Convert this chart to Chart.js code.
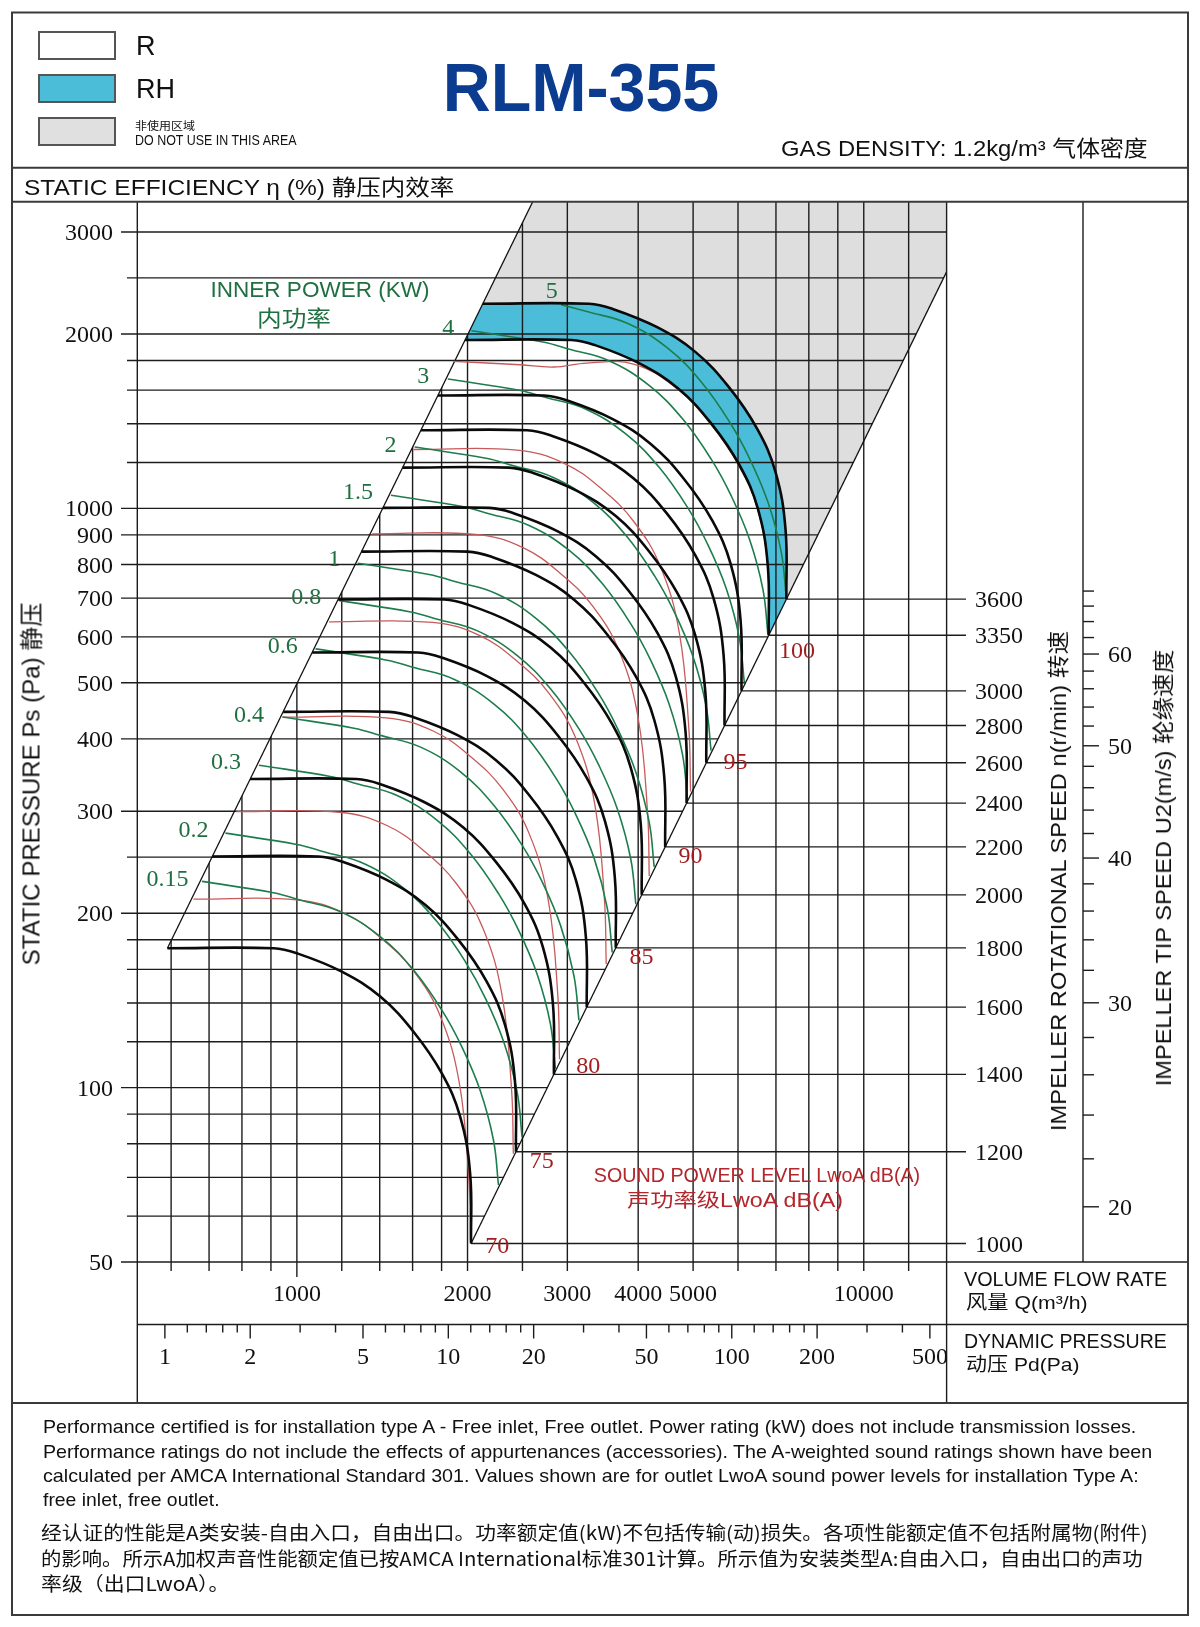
<!DOCTYPE html>
<html>
<head>
<meta charset="utf-8">
<title>RLM-355</title>
<script src="https://cdn.jsdelivr.net/npm/chart.js@4.4.1/dist/chart.umd.min.js"></script>
<style>
  html, body { margin: 0; padding: 0; background: #fff; }
  #page { position: relative; width: 1200px; height: 1627px; overflow: hidden; background: #fff; }
  #chart { position: absolute; left: 0; top: 0; }
  .t { position: absolute; white-space: nowrap; line-height: 1; color: #111; }
  .sans { font-family: "Liberation Sans", Arial, "Noto Sans CJK SC", sans-serif; }
  .serif { font-family: "Liberation Serif", "Times New Roman", "Noto Sans CJK SC", serif; }
  .cjk { font-family: "Noto Sans CJK SC", "Liberation Sans", sans-serif; }
</style>
</head>
<body>
<div id="page">
  <canvas id="chart" width="1200" height="1627"></canvas>
</div>
<script>
// impeller speeds n (r/min), one black fan curve each; the last two bound the RH band
const speeds = [1000, 1200, 1400, 1600, 1800, 2000, 2200, 2400, 2600, 2800, 3000, 3350, 3600];

// fan curves: volume flow Q (m3/h) and static pressure Ps (Pa)
const fanFlow = [
  [591, 910, 1000, 1200, 1403, 1606, 1802, 1941, 2021, 2029],
  [709, 1092, 1200, 1440, 1684, 1927, 2162, 2329, 2425, 2435],
  [827, 1274, 1400, 1680, 1964, 2248, 2523, 2717, 2829, 2841],
  [946, 1456, 1600, 1920, 2245, 2570, 2883, 3106, 3234, 3246],
  [1064, 1638, 1800, 2160, 2525, 2891, 3244, 3494, 3638, 3652],
  [1182, 1820, 2000, 2400, 2806, 3212, 3604, 3882, 4042, 4058],
  [1300, 2002, 2200, 2640, 3087, 3533, 3964, 4270, 4446, 4464],
  [1418, 2184, 2400, 2880, 3367, 3854, 4325, 4658, 4850, 4870],
  [1537, 2366, 2600, 3120, 3648, 4176, 4685, 5047, 5255, 5275],
  [1655, 2548, 2800, 3360, 3928, 4497, 5046, 5435, 5659, 5681],
  [1773, 2730, 3000, 3600, 4209, 4818, 5406, 5823, 6063, 6087],
  [1980, 3049, 3350, 4020, 4700, 5380, 6037, 6502, 6770, 6797],
  [2128, 3276, 3600, 4320, 5051, 5782, 6487, 6988, 7276, 7304]
];
const fanPressure = [
  [174, 174, 170.6, 158.6, 143.6, 124.9, 105.8, 89.1, 71.2, 53.8],
  [250.6, 250.6, 245.7, 228.4, 206.8, 179.9, 152.4, 128.3, 102.5, 77.5],
  [341, 341, 334.4, 310.9, 281.5, 244.8, 207.4, 174.6, 139.6, 105.4],
  [445.4, 445.4, 436.7, 406, 367.6, 319.7, 270.8, 228.1, 182.3, 137.7],
  [563.8, 563.8, 552.7, 513.9, 465.3, 404.7, 342.8, 288.7, 230.7, 174.3],
  [696, 696, 682.4, 634.4, 574.4, 499.6, 423.2, 356.4, 284.8, 215.2],
  [842.2, 842.2, 825.7, 767.6, 695, 604.5, 512.1, 431.2, 344.6, 260.4],
  [1002, 1002, 982.7, 913.5, 827.1, 719.4, 609.4, 513.2, 410.1, 309.9],
  [1176, 1176, 1153, 1072, 970.7, 844.3, 715.2, 602.3, 481.3, 363.7],
  [1364, 1364, 1337, 1243, 1126, 979.2, 829.5, 698.5, 558.2, 421.8],
  [1566, 1566, 1535, 1427, 1292, 1124, 952.2, 801.9, 640.8, 484.2],
  [1953, 1953, 1915, 1780, 1612, 1402, 1187, 1000, 799, 603.8],
  [2255, 2255, 2211, 2055, 1861, 1619, 1371, 1155, 922.8, 697.2]
];

// inner power lines (kW), green
const powerLabels = ['0.15', '0.2', '0.3', '0.4', '0.6', '0.8', '1', '1.5', '2', '3', '4', '5'];
const powerFlow = [
  [680, 909, 1013, 1192, 1403, 1606, 1802, 1954, 2105, 2222, 2268],
  [748, 1000, 1115, 1312, 1544, 1768, 1983, 2151, 2317, 2446, 2496],
  [857, 1145, 1276, 1502, 1768, 2023, 2270, 2462, 2652, 2800, 2858],
  [943, 1261, 1405, 1653, 1946, 2227, 2499, 2710, 2919, 3081, 3145],
  [1079, 1443, 1608, 1892, 2227, 2549, 2861, 3102, 3342, 3527, 3600],
  [1188, 1588, 1770, 2083, 2451, 2806, 3149, 3414, 3678, 3882, 3963],
  [1280, 1711, 1907, 2244, 2641, 3023, 3392, 3678, 3962, 4182, 4269],
  [1465, 1958, 2182, 2568, 3023, 3460, 3882, 4210, 4535, 4787, 4886],
  [1613, 2156, 2402, 2827, 3327, 3808, 4273, 4634, 4992, 5269, 5378],
  [1846, 2467, 2750, 3236, 3808, 4359, 4891, 5304, 5714, 6031, 6156],
  [2032, 2716, 3026, 3561, 4192, 4798, 5384, 5838, 6289, 6639, 6776],
  [2925, 3260, 3836, 4515, 5169, 5799, 6289, 6775, 7151, 7299]
];
const powerPressure = [
  [227, 217, 210.9, 201.3, 182.3, 159.6, 136.1, 117.7, 99, 81.2, 67.9],
  [275, 262.9, 255.5, 243.8, 220.8, 193.3, 164.9, 142.6, 119.9, 98.4, 82.2],
  [360.3, 344.5, 334.8, 319.5, 289.4, 253.3, 216, 186.8, 157.2, 128.9, 107.8],
  [436.5, 417.3, 405.6, 387.1, 350.6, 306.9, 261.7, 226.3, 190.4, 156.1, 130.6],
  [572, 546.8, 531.4, 507.2, 459.4, 402.2, 342.9, 296.6, 249.5, 204.6, 171.1],
  [693, 662.5, 643.8, 614.5, 556.5, 487.2, 415.5, 359.3, 302.2, 247.9, 207.3],
  [804.1, 768.7, 747.1, 713.1, 645.8, 565.4, 482.1, 416.9, 350.7, 287.6, 240.5],
  [1053.6, 1007.2, 978.9, 934.4, 846.2, 740.8, 631.7, 546.3, 459.5, 376.9, 315.2],
  [1276.4, 1220.2, 1185.9, 1131.9, 1025.1, 897.4, 765.3, 661.8, 556.7, 456.6, 381.8],
  [1672.6, 1598.9, 1553.9, 1483.2, 1343.2, 1176, 1002.8, 867.2, 729.4, 598.3, 500.3],
  [2026.2, 1936.9, 1882.4, 1796.8, 1627.2, 1424.6, 1214.8, 1050.6, 883.7, 724.8, 606.1],
  [2247.6, 2184.4, 2084.9, 1888.2, 1653, 1409.6, 1219.1, 1025.4, 841, 703.3]
];

// sound power level lines LwoA dB(A), red
const soundLevels = [70, 75, 80, 85, 90, 95, 100];
const soundFlow = [
  [657, 1000, 1214, 1418, 1606, 1790, 1934, 2010, 2024],
  [782, 1190, 1445, 1687, 1911, 2130, 2301, 2392, 2409],
  [943, 1436, 1743, 2036, 2306, 2570, 2777, 2886, 2906],
  [1140, 1736, 2107, 2461, 2787, 3107, 3356, 3488, 3513],
  [1358, 2067, 2510, 2931, 3320, 3700, 3998, 4155, 4184],
  [1606, 2445, 2968, 3466, 3926, 4376, 4728, 4913, 4948],
  [1889, 2476, 2836, 3247, 3925, 4700, 5380, 6037, 6502, 6770, 6797]
];
const soundPressure = [
  [211.5, 211, 200, 180, 159, 133, 102, 70, 54.3],
  [299.5, 298.8, 283.2, 254.9, 225.1, 188.3, 144.4, 99.1, 76.9],
  [436, 435, 412.3, 371.1, 327.8, 274.2, 210.3, 144.3, 111.9],
  [637, 635.5, 602.4, 542.1, 478.9, 400.6, 307.2, 210.8, 163.5],
  [903.9, 901.7, 854.7, 769.2, 679.5, 568.4, 435.9, 299.1, 232],
  [1263.8, 1260.8, 1195, 1075.6, 950.1, 794.7, 609.5, 418.3, 324.5],
  [1794, 1770, 1754, 1782, 1775, 1605, 1395, 1180, 995, 795, 604]
];

// label anchors (Q, Ps) for the green and red line labels
const powerLabelFlow = [591, 657, 750, 823, 944, 1039, 1164, 1282, 1463, 1670, 1849, 2817];
const powerLabelPressure = [230, 280, 366, 442, 581, 706, 821, 1070, 1293, 1701, 2059, 2385];
const soundLabelFlow = [2256, 2704, 3265, 4054, 4949, 5941, 7627];
const soundLabelPressure = [53.5, 75, 109.6, 168.8, 252, 366, 570];

// boundary lines of the usable area
const upperDiagFlow = [591, 2605];
const upperDiagPressure = [174, 3380];
const lowerDiagFlow = [2029, 14000];
const lowerDiagPressure = [53.8, 2561];

// grid and tick values
const pressureGrid = [60, 70, 80, 90, 100, 120, 140, 160, 180, 200, 250, 300, 400, 500, 600, 700, 800, 900, 1000, 1200, 1400, 1600, 1800, 2000, 2500, 3000];
const pressureTicks = [50, 100, 200, 300, 400, 500, 600, 700, 800, 900, 1000, 2000, 3000];
const flowGrid = [600, 700, 800, 900, 1000, 1200, 1400, 1600, 1800, 2000, 2500, 3000, 4000, 5000, 6000, 7000, 8000, 9000, 10000, 12000];
const flowTicks = [1000, 2000, 3000, 4000, 5000, 10000];
const dynPressureMarks = [1, 1.2, 1.4, 1.6, 1.8, 2, 3, 4, 5, 6, 7, 8, 9, 10, 12, 14, 16, 18, 20, 30, 40, 50, 60, 70, 80, 90, 100, 120, 140, 160, 180, 200, 300, 400, 500];
const dynPressureTicks = [1, 2, 5, 10, 20, 50, 100, 200, 500];
const tipSpeedMarks = [20, 22, 24, 26, 28, 30, 32, 34, 36, 38, 40, 42, 44, 46, 48, 50, 52, 54, 56, 58, 60, 62, 64, 66, 68];
const tipSpeedTicks = [20, 30, 40, 50, 60];
const flowAtUnitPd = 585;      // Q where dynamic pressure is 1 Pa
const tipSpeedAt1000 = 18.59;  // U2 (m/s) at 1000 r/min

const GREEN = '#1e7d4c', GREEN_TXT = '#1f6f40', RED = '#c75a5a', RED_TXT = '#a31d1f';

function pts(qs, ps) { return qs.map((q, i) => ({ x: q, y: ps[i] })); }

const lineBase = { showLine: true, pointRadius: 0, pointHoverRadius: 0, fill: false, tension: 0.4 };
const datasets = [];
speeds.forEach((n, i) => datasets.push(Object.assign({}, lineBase, {
  label: n + ' r/min', data: pts(fanFlow[i], fanPressure[i]), borderColor: '#0a0a0a', borderWidth: 2.6
})));
powerLabels.forEach((w, i) => datasets.push(Object.assign({}, lineBase, {
  label: w + ' kW', data: pts(powerFlow[i], powerPressure[i]), borderColor: GREEN, borderWidth: 1.6
})));
soundLevels.forEach((s, i) => datasets.push(Object.assign({}, lineBase, {
  label: s + ' dB(A)', data: pts(soundFlow[i], soundPressure[i]), borderColor: RED, borderWidth: 1.3
})));
datasets.push(Object.assign({}, lineBase, { label: 'limit 1', data: pts(upperDiagFlow, upperDiagPressure), borderColor: '#111', borderWidth: 1.3, tension: 0 }));
datasets.push(Object.assign({}, lineBase, { label: 'limit 2', data: pts(lowerDiagFlow, lowerDiagPressure), borderColor: '#111', borderWidth: 1.3, tension: 0 }));

const INNER = speeds.indexOf(3350), OUTER = speeds.indexOf(3600);

function seg(ctx, x1, y1, x2, y2) { ctx.beginPath(); ctx.moveTo(x1, y1); ctx.lineTo(x2, y2); ctx.stroke(); }

const sheetPlugin = {
  id: 'sheet',
  beforeDatasetsDraw(chart) {
    const ctx = chart.ctx, area = chart.chartArea;
    const X = v => chart.scales.x.getPixelForValue(v);
    const Y = v => chart.scales.y.getPixelForValue(v);
    const outer = chart.getDatasetMeta(OUTER).dataset;
    const inner = chart.getDatasetMeta(INNER).dataset;
    outer.updateControlPoints(area, 'x');
    inner.updateControlPoints(area, 'x');
    const ua = { x: X(upperDiagFlow[0]), y: Y(upperDiagPressure[0]) };
    const ub = { x: X(upperDiagFlow[1]), y: Y(upperDiagPressure[1]) };
    const la = { x: X(lowerDiagFlow[0]), y: Y(lowerDiagPressure[0]) };
    const lb = { x: X(lowerDiagFlow[1]), y: Y(lowerDiagPressure[1]) };

    ctx.save();
    // do-not-use zone
    ctx.beginPath();
    ctx.moveTo(ub.x, area.top);
    ctx.lineTo(outer.points[0].x, outer.points[0].y);
    outer.pathSegment(ctx, outer.segments[0], { move: false });
    ctx.lineTo(lb.x, lb.y);
    ctx.lineTo(area.right, area.top);
    ctx.closePath();
    ctx.fillStyle = '#dedede';
    ctx.fill();
    // RH band
    ctx.beginPath();
    outer.pathSegment(ctx, outer.segments[0], { move: true });
    inner.pathSegment(ctx, inner.segments[0], { move: false, reverse: true });
    ctx.closePath();
    ctx.fillStyle = '#4bbdd9';
    ctx.fill();

    ctx.strokeStyle = '#1c1c1c';
    ctx.lineWidth = 1.4;
    // vertical grid: right of the upper boundary
    const d = { x: ub.x - ua.x, y: ub.y - ua.y };
    ctx.save();
    ctx.beginPath();
    ctx.moveTo(ua.x - 3 * d.x, ua.y - 3 * d.y);
    ctx.lineTo(ub.x + d.x, ub.y + d.y);
    ctx.lineTo(3000, ub.y + d.y);
    ctx.lineTo(3000, ua.y - 3 * d.y);
    ctx.closePath();
    ctx.clip();
    flowGrid.forEach(q => seg(ctx, X(q), area.top, X(q), area.bottom + (q === 1000 ? 15 : 9)));
    ctx.restore();
    // horizontal grid: left of the lower boundary
    const e = { x: lb.x - la.x, y: lb.y - la.y };
    ctx.save();
    ctx.beginPath();
    ctx.moveTo(la.x - 3 * e.x, la.y - 3 * e.y);
    ctx.lineTo(lb.x + e.x, lb.y + e.y);
    ctx.lineTo(-100, lb.y + e.y);
    ctx.lineTo(-100, la.y - 3 * e.y);
    ctx.closePath();
    ctx.clip();
    pressureGrid.forEach(p => seg(ctx, pressureTicks.includes(p) ? 121 : 127, Y(p), area.right, Y(p)));
    ctx.restore();
    // speed lines from the end of each fan curve to the speed scale
    speeds.forEach((n, i) => {
      const q = fanFlow[i][fanFlow[i].length - 1], p = fanPressure[i][fanPressure[i].length - 1];
      seg(ctx, X(q), Y(p), 966, Y(p));
    });
    ctx.restore();
  },
  afterDraw(chart) {
    const ctx = chart.ctx, area = chart.chartArea;
    const X = v => chart.scales.x.getPixelForValue(v);
    const Y = v => chart.scales.y.getPixelForValue(v);
    ctx.save();
    ctx.strokeStyle = '#1c1c1c';
    ctx.lineWidth = 1.4;
    seg(ctx, 121, area.bottom, 1188, area.bottom);
    seg(ctx, area.left, 202, area.left, 1403);
    seg(ctx, area.right, 202, area.right, 1403);
    seg(ctx, 1083, 202, 1083, area.bottom);
    seg(ctx, area.left, 1324.5, 1188, 1324.5);
    // dynamic pressure scale
    dynPressureMarks.forEach(pd => {
      const x = X(flowAtUnitPd * Math.sqrt(pd));
      seg(ctx, x, 1324.5, x, 1324.5 + (dynPressureTicks.includes(pd) ? 14 : 8));
    });
    // tip speed scale
    const p1000 = fanPressure[0][fanPressure[0].length - 1];
    tipSpeedMarks.forEach(u => {
      const y = Y(p1000 * Math.pow(u / tipSpeedAt1000, 2));
      seg(ctx, 1083, y, 1083 + (tipSpeedTicks.includes(u) ? 16 : 11), y);
    });
    // frame
    ctx.strokeStyle = '#3a3a3a';
    ctx.lineWidth = 2;
    ctx.strokeRect(12, 12.5, 1176, 1602.5);
    seg(ctx, 12, 167.7, 1188, 167.7);
    seg(ctx, 12, 201.7, 1188, 201.7);
    seg(ctx, 12, 1403, 1188, 1403);
    ctx.restore();
  }
};

const chart = new Chart(document.getElementById('chart'), {
  type: 'scatter',
  data: { datasets },
  options: {
    responsive: false,
    animation: false,
    devicePixelRatio: 1,
    events: [],
    layout: { padding: { left: 137.3, right: 253.4, top: 202, bottom: 365 } },
    scales: {
      x: { type: 'logarithmic', min: 523, max: 14000, display: false },
      y: { type: 'logarithmic', min: 50, max: 3380, display: false }
    },
    plugins: { legend: { display: false }, tooltip: { enabled: false } }
  },
  plugins: [sheetPlugin]
});

// ---------- text ----------
const page = document.getElementById('page');
function addText(str, x, y, cls, size, opts) {
  opts = opts || {};
  const el = document.createElement('div');
  el.className = 't ' + cls;
  el.textContent = str;
  el.style.fontSize = size + 'px';
  if (opts.color) el.style.color = opts.color;
  if (opts.weight) el.style.fontWeight = opts.weight;
  page.appendChild(el);
  const ax = opts.align === 'right' ? -100 : opts.align === 'left' ? 0 : -50;
  const sx = opts.width ? opts.width / el.offsetWidth : 1;
  el.style.left = x + 'px';
  el.style.top = y + 'px';
  el.style.transformOrigin = '0 0';
  el.style.transform = 'rotate(' + (opts.rot || 0) + 'deg) scaleX(' + sx + ') translate(' + ax + '%, -50%)';
  return el;
}
const X = v => chart.scales.x.getPixelForValue(v);
const Y = v => chart.scales.y.getPixelForValue(v);

// header
function box(x, y, w, h, fill) {
  const b = document.createElement('div');
  b.style.cssText = 'position:absolute;left:' + x + 'px;top:' + y + 'px;width:' + w + 'px;height:' + h + 'px;background:' + fill + ';border:2px solid #555;box-sizing:border-box;';
  page.appendChild(b);
}
box(38, 31, 78, 29, '#fff');
box(38, 74, 78, 29, '#4bbdd9');
box(38, 117, 78, 29, '#e0e0e0');
addText('R', 136, 46, 'sans', 27, { align: 'left' });
addText('RH', 136, 89, 'sans', 27, { align: 'left' });
addText('非使用区域', 135, 124.5, 'cjk', 11, { align: 'left', width: 60 });
addText('DO NOT USE IN THIS AREA', 135, 140, 'sans', 14, { align: 'left', width: 162 });
addText('RLM-355', 580.5, 87, 'sans', 69, { weight: 'bold', color: '#0c3c90', width: 277 });
addText('GAS DENSITY: 1.2kg/m³ 气体密度', 781, 148.5, 'sans', 22, { align: 'left', width: 367 });
addText('STATIC EFFICIENCY η (%) 静压内效率', 24, 188, 'sans', 22, { align: 'left', width: 430 });

// pressure axis
pressureTicks.forEach(p => addText(String(p), 113, Y(p), 'serif', 24, { align: 'right' }));
addText('STATIC PRESSURE Ps (Pa) 静压', 32, 784, 'sans', 23, { rot: -90, width: 363 });
// flow axis
flowTicks.forEach(q => addText(String(q), X(q), 1293, 'serif', 24));
addText('VOLUME FLOW RATE', 964, 1279, 'sans', 20, { align: 'left', width: 203 });
addText('风量  Q(m³/h)', 966, 1302, 'sans', 19, { align: 'left', width: 122 });
dynPressureTicks.forEach(pd => addText(String(pd), X(flowAtUnitPd * Math.sqrt(pd)), 1356, 'serif', 24));
addText('DYNAMIC PRESSURE', 964, 1341, 'sans', 20, { align: 'left', width: 203 });
addText('动压  Pd(Pa)', 966, 1364, 'sans', 19, { align: 'left', width: 113 });

// speed and tip speed scales
speeds.forEach((n, i) => addText(String(n), 975, Y(fanPressure[i][fanPressure[i].length - 1]), 'serif', 24, { align: 'left' }));
const p1000 = fanPressure[0][fanPressure[0].length - 1];
tipSpeedTicks.forEach(u => addText(String(u), 1120, Y(p1000 * Math.pow(u / tipSpeedAt1000, 2)), 'serif', 24));
addText('IMPELLER ROTATIONAL SPEED n(r/min)  转速', 1059, 881, 'sans', 22, { rot: -90, width: 500 });
addText('IMPELLER TIP SPEED U2(m/s)  轮缘速度', 1164, 868, 'sans', 22, { rot: -90, width: 437 });

// curve labels
powerLabels.forEach((w, i) => addText(w, X(powerLabelFlow[i]), Y(powerLabelPressure[i]), 'serif', 24, { color: GREEN_TXT }));
soundLevels.forEach((s, i) => addText(String(s), X(soundLabelFlow[i]), Y(soundLabelPressure[i]), 'serif', 24, { color: RED_TXT }));
addText('INNER POWER (KW)', 320, 290, 'sans', 22, { color: GREEN_TXT, width: 219 });
addText('内功率', 293.5, 316, 'cjk', 22, { color: GREEN_TXT, width: 74 });
addText('SOUND POWER LEVEL LwoA dB(A)', 757, 1176, 'sans', 19.5, { color: '#b3262b', width: 326 });
addText('声功率级LwoA dB(A)', 735, 1201, 'sans', 19.5, { color: '#b3262b', width: 216 });

// footer
addText('Performance certified is for installation type A - Free inlet, Free outlet. Power rating (kW) does not include transmission losses.', 43, 1427, 'sans', 18.5, { align: 'left', width: 1093 });
addText('Performance ratings do not include the effects of appurtenances (accessories). The A-weighted sound ratings shown have been', 43, 1451.5, 'sans', 18.5, { align: 'left', width: 1109 });
addText('calculated per AMCA International Standard 301. Values shown are for outlet LwoA sound power levels for installation Type A:', 43, 1475.5, 'sans', 18.5, { align: 'left', width: 1096 });
addText('free inlet, free outlet.', 43, 1500, 'sans', 18.5, { align: 'left', width: 177 });
addText('经认证的性能是A类安装-自由入口，自由出口。功率额定值(kW)不包括传输(动)损失。各项性能额定值不包括附属物(附件)', 41, 1531, 'cjk', 19, { align: 'left', width: 1107 });
addText('的影响。所示A加权声音性能额定值已按AMCA International标准301计算。所示值为安装类型A:自由入口，自由出口的声功', 41, 1557, 'cjk', 19, { align: 'left', width: 1101 });
addText('率级（出口LwoA）。', 41, 1582, 'cjk', 19, { align: 'left', width: 188 });
</script>
</body>
</html>
